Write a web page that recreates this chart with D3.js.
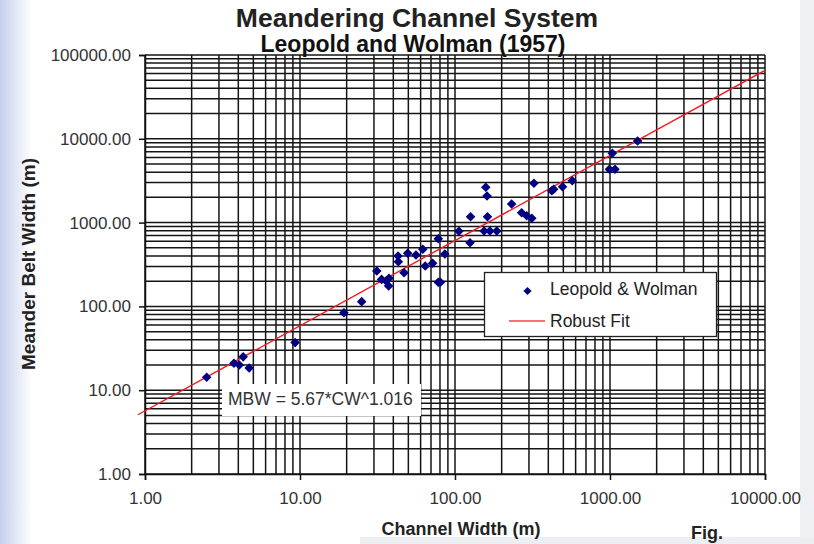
<!DOCTYPE html>
<html>
<head>
<meta charset="utf-8">
<script src="https://cdn.jsdelivr.net/npm/d3@7/dist/d3.min.js"></script>
<style>
    html, body { margin: 0; padding: 0; background: #fff; }
    svg { display: block; font-family: "Liberation Sans", Arial, sans-serif; }
</style>
</head>
<body>
<svg id="chart" width="814" height="544"></svg>
<script>
/*
    meander chart
 */

// Leopold & Wolman points
const channelWidth = [
    2.5, 3.75, 4.06, 4.3, 4.7, 9.3, 19.2, 25, 31.3, 33.6, 35.9, 37.5, 37.3, 42.9, 43.1, 46.9,
    49.5, 56, 62, 64.3, 71.7, 78, 78, 80.5, 86, 106, 125, 126, 158, 161, 162, 154, 168, 186,
    232, 269, 290, 313, 323, 421, 433, 494, 571, 1035, 991, 1077, 1507
];
const beltWidth = [
    14.3, 21, 20, 25, 18.4, 37, 84, 114, 264, 210, 201, 216, 175, 399, 341, 252,
    430, 410, 480, 303, 327, 643, 194, 194, 422, 787, 575, 1175, 2640, 2076, 1175, 794, 794, 794,
    1667, 1313, 1208, 1125, 2944, 2404, 2500, 2680, 3164, 6714, 4325, 4325, 9416
];

// robust fit MBW = a * CW^b
const fitCoef = 5.67;
const fitExp = 1.016;
const fitRange = [0.9, 10000];

const xTicks = [1, 10, 100, 1000, 10000];
const yTicks = [1, 10, 100, 1000, 10000, 100000];
const legendLabels = ["Leopold & Wolman", "Robust Fit"];

const svg = d3.select("#chart");
const plot = { left: 145, right: 765, top: 55, bottom: 474 };

const x = d3.scaleLog().domain([1, 10000]).range([plot.left, plot.right]);
const y = d3.scaleLog().domain([1, 100000]).range([plot.bottom, plot.top]);

// slide background edges
const defs = svg.append("defs");
const grad = defs.append("linearGradient").attr("id", "edge").attr("x1", 0).attr("x2", 1);
grad.append("stop").attr("offset", 0).attr("stop-color", "#c4d0ee");
grad.append("stop").attr("offset", 1).attr("stop-color", "#ffffff");
svg.append("rect").attr("width", 32).attr("height", 544).attr("fill", "url(#edge)");
svg.append("rect").attr("x", 800).attr("width", 14).attr("height", 544).attr("fill", "#eef0f3");
svg.append("rect").attr("x", 360).attr("y", 537).attr("width", 454).attr("height", 7).attr("fill", "#eceef1");

defs.append("clipPath").attr("id", "plot")
    .append("rect")
    .attr("x", plot.left).attr("y", plot.top)
    .attr("width", plot.right - plot.left).attr("height", plot.bottom - plot.top);

// grid: every 1..9 step of each decade
function minorValues(domain) {
    const values = [];
    for (let p = Math.log10(domain[0]); p < Math.log10(domain[1]); p++) {
        for (let m = 1; m < 10; m++) values.push(m * Math.pow(10, p));
    }
    values.push(domain[1]);
    return values;
}

const grid = svg.append("g").attr("stroke", "#141414").attr("stroke-width", 1.5);
grid.selectAll("line.v").data(minorValues(x.domain())).join("line")
    .attr("class", "v")
    .attr("x1", d => x(d)).attr("x2", d => x(d))
    .attr("y1", plot.top).attr("y2", plot.bottom);
grid.selectAll("line.h").data(minorValues(y.domain())).join("line")
    .attr("class", "h")
    .attr("y1", d => y(d)).attr("y2", d => y(d))
    .attr("x1", plot.left).attr("x2", plot.right);

// equation label covers the grid
svg.append("rect").attr("x", 222).attr("y", 384).attr("width", 199).attr("height", 32).attr("fill", "#fff");
svg.append("text").attr("x", 228).attr("y", 405)
    .attr("font-size", 17.5).attr("fill", "#333")
    .text(`MBW = ${fitCoef}*CW^${fitExp}`);

// axes
const fmt = d3.format(".2f");
const xAxis = svg.append("g").attr("transform", `translate(0,${plot.bottom})`)
    .call(d3.axisBottom(x).tickValues(xTicks).tickFormat(fmt).tickSize(6).tickPadding(12));
const yAxis = svg.append("g").attr("transform", `translate(${plot.left},0)`)
    .call(d3.axisLeft(y).tickValues(yTicks).tickFormat(fmt).tickSize(6).tickPadding(8));
[xAxis, yAxis].forEach(g => {
    g.attr("font-family", null).attr("font-size", 17);
    g.select(".domain").attr("stroke", "#111").attr("stroke-width", 1.5);
    g.selectAll(".tick line").attr("stroke", "#111").attr("stroke-width", 1.5);
    g.selectAll(".tick text").attr("fill", "#333");
});

// fit line
const fitLine = d3.line().x(d => x(d)).y(d => y(fitCoef * Math.pow(d, fitExp)));
svg.append("path")
    .datum(fitRange)
    .attr("d", fitLine)
    .attr("fill", "none")
    .attr("stroke", "#f01c24")
    .attr("stroke-width", 1.4);

// points: square turned 45 degrees, as the spreadsheet marker
const diamond = d3.symbol().type(d3.symbolSquare).size(46);
svg.append("g").attr("clip-path", "url(#plot)")
    .selectAll("path")
    .data(d3.zip(channelWidth, beltWidth))
    .join("path")
    .attr("d", diamond)
    .attr("transform", d => `translate(${x(d[0])},${y(d[1])}) rotate(45)`)
    .attr("fill", "#000080");

// legend
const legend = svg.append("g");
legend.append("rect").attr("x", 484.5).attr("y", 272.5).attr("width", 232).attr("height", 64)
    .attr("fill", "#fff").attr("stroke", "#222").attr("stroke-width", 1.3);
legend.append("path").attr("d", d3.symbol().type(d3.symbolSquare).size(34))
    .attr("transform", "translate(527.5,291) rotate(45)").attr("fill", "#000080");
legend.append("line").attr("x1", 509).attr("x2", 545).attr("y1", 321).attr("y2", 321)
    .attr("stroke", "#f2404a").attr("stroke-width", 1.6);
legend.selectAll("text").data(legendLabels).join("text")
    .attr("x", 550).attr("y", (d, i) => 295 + i * 32)
    .attr("font-size", 17.5).attr("fill", "#222")
    .text(d => d);

// titles
svg.append("text").attr("x", 417).attr("y", 27).attr("text-anchor", "middle")
    .attr("font-size", 26.5).attr("font-weight", "bold").attr("fill", "#222")
    .text("Meandering Channel System");
svg.append("text").attr("x", 413).attr("y", 52).attr("text-anchor", "middle")
    .attr("font-size", 23).attr("font-weight", "bold").attr("fill", "#111")
    .text("Leopold and Wolman (1957)");
svg.append("text").attr("x", 461).attr("y", 535).attr("text-anchor", "middle")
    .attr("font-size", 18).attr("font-weight", "bold").attr("fill", "#222")
    .text("Channel Width (m)");
svg.append("text").attr("transform", "translate(35,264) rotate(-90)").attr("text-anchor", "middle")
    .attr("font-size", 19).attr("font-weight", "bold").attr("fill", "#222")
    .text("Meander Belt Width (m)");
svg.append("text").attr("x", 691).attr("y", 539)
    .attr("font-size", 18).attr("font-weight", "bold").attr("fill", "#222")
    .text("Fig.");
</script>
</body>
</html>
